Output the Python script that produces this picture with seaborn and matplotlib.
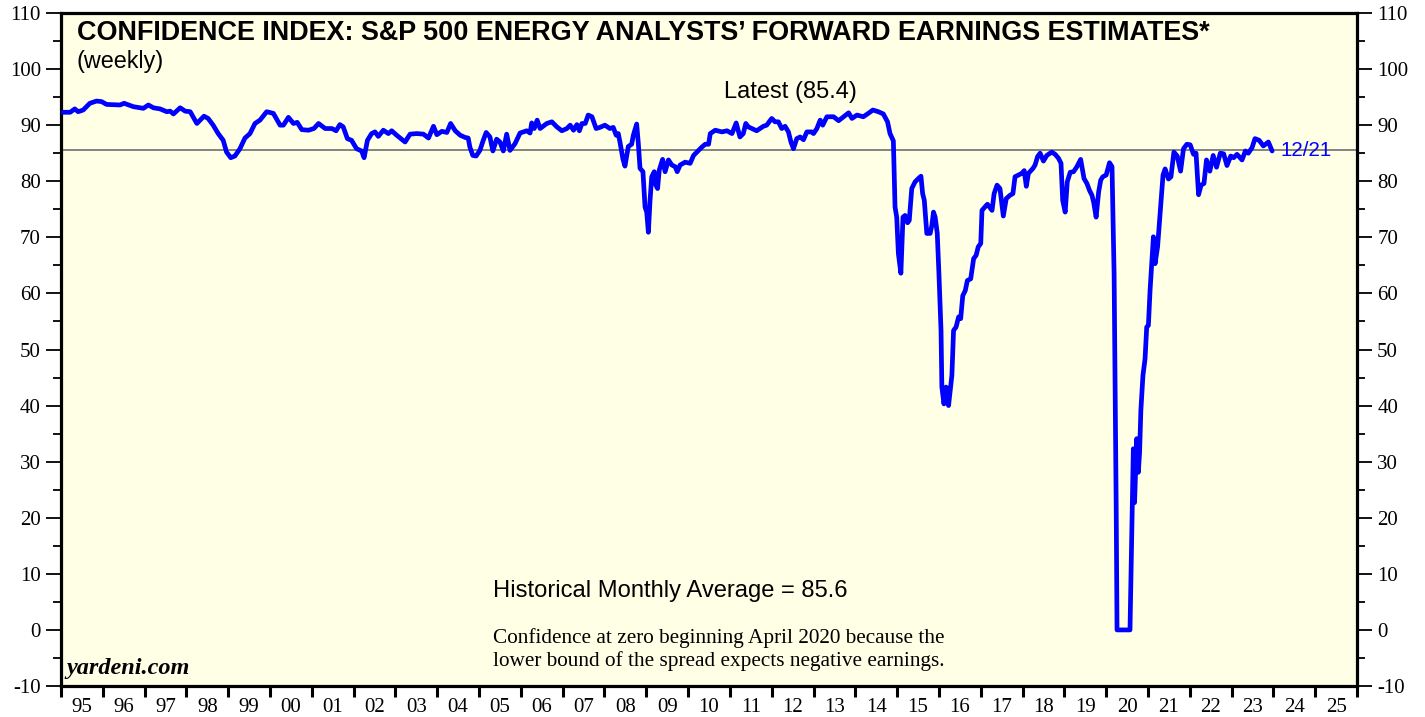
import matplotlib
matplotlib.use("Agg")
import matplotlib.pyplot as plt
import seaborn as sns
import numpy as np
import pandas as pd
from matplotlib.ticker import MultipleLocator, FixedLocator, FixedFormatter

# ---------------- data (decimal year, confidence index) ----------------
dates_a = [1995.05, 1995.22, 1995.33, 1995.41, 1995.53, 1995.69, 1995.85, 1995.97, 1996.09, 1996.41,
           1996.51, 1996.73, 1996.97, 1997.09, 1997.21, 1997.37, 1997.53, 1997.61, 1997.69, 1997.85,
           1997.97, 1998.09, 1998.25, 1998.42, 1998.52, 1998.64, 1998.76, 1998.88, 1998.96, 1999.06,
           1999.16, 1999.28, 1999.40, 1999.52, 1999.64, 1999.76, 1999.92, 2000.08, 2000.24, 2000.32,
           2000.44, 2000.56, 2000.65, 2000.76, 2000.92]
values_a = [92.3, 92.3, 92.9, 92.4, 92.7, 93.9, 94.3, 94.2, 93.7, 93.6,
            93.9, 93.3, 93.0, 93.6, 93.1, 92.9, 92.4, 92.5, 92.0, 93.1,
            92.5, 92.4, 90.3, 91.6, 91.2, 90.0, 88.5, 87.3, 85.2, 84.2,
            84.5, 85.8, 87.7, 88.5, 90.3, 90.9, 92.4, 92.1, 90.0, 90.0,
            91.4, 90.3, 90.5, 89.2, 89.1]

dates_b = [2001.05, 2001.16, 2001.32, 2001.48, 2001.58, 2001.67, 2001.75, 2001.85, 2001.95, 2002.07,
           2002.19, 2002.25, 2002.33, 2002.43, 2002.51, 2002.59, 2002.71, 2002.83, 2002.91, 2003.03,
           2003.23, 2003.35, 2003.51, 2003.67, 2003.79, 2003.91, 2003.99, 2004.11, 2004.23, 2004.32,
           2004.43, 2004.55, 2004.67, 2004.74, 2004.78, 2004.85, 2004.93, 2005.02, 2005.10, 2005.17,
           2005.26, 2005.33, 2005.42, 2005.50, 2005.58, 2005.66, 2005.74, 2005.86, 2005.98, 2006.14,
           2006.22, 2006.26, 2006.32, 2006.39, 2006.46, 2006.62, 2006.74, 2006.86, 2006.98, 2007.10,
           2007.18, 2007.26, 2007.34, 2007.40, 2007.46, 2007.54, 2007.61, 2007.70, 2007.80]
values_b = [89.4, 90.3, 89.4, 89.4, 89.0, 90.1, 89.7, 87.6, 87.3, 85.8,
            85.4, 84.2, 87.3, 88.5, 88.8, 88.0, 89.1, 88.5, 89.0, 88.2,
            87.0, 88.4, 88.5, 88.4, 87.7, 89.8, 88.3, 88.9, 88.7, 90.3,
            89.0, 88.2, 87.8, 87.7, 86.1, 84.6, 84.5, 85.5, 87.3, 88.7,
            87.9, 85.4, 87.5, 87.0, 85.4, 88.4, 85.5, 86.7, 88.6, 89.0,
            88.6, 90.4, 89.4, 90.9, 89.4, 90.3, 90.6, 89.7, 89.0, 89.4,
            90.0, 89.1, 90.1, 89.0, 90.3, 90.3, 91.8, 91.5, 89.4]

dates_c = [2007.89, 2008.01, 2008.13, 2008.21, 2008.28, 2008.33, 2008.37, 2008.44, 2008.49, 2008.57,
           2008.65, 2008.69, 2008.77, 2008.81, 2008.85, 2008.92, 2008.97, 2009.01, 2009.05, 2009.09,
           2009.13, 2009.19, 2009.23, 2009.27, 2009.31, 2009.39, 2009.45, 2009.53, 2009.61, 2009.69,
           2009.74, 2009.81, 2009.93, 2010.05, 2010.13, 2010.25, 2010.33, 2010.41, 2010.49, 2010.53,
           2010.65, 2010.81, 2010.93, 2011.05, 2011.15, 2011.24, 2011.32, 2011.38, 2011.44, 2011.64,
           2011.80, 2011.88, 2012.00, 2012.08, 2012.16, 2012.24, 2012.32, 2012.40, 2012.46, 2012.52,
           2012.60, 2012.68, 2012.76, 2012.84, 2012.96, 2013.00, 2013.08, 2013.16, 2013.22, 2013.32,
           2013.48, 2013.60, 2013.72, 2013.84, 2013.92, 2014.04, 2014.19, 2014.31, 2014.42, 2014.55,
           2014.67, 2014.77, 2014.83, 2014.91]
values_c = [89.6, 90.0, 89.4, 89.6, 88.2, 88.5, 87.0, 84.0, 82.7, 86.2,
            86.6, 88.2, 90.2, 86.7, 82.3, 81.7, 75.4, 74.5, 70.9, 76.6,
            80.8, 81.7, 79.3, 78.7, 82.0, 83.9, 81.7, 83.8, 82.9, 82.6,
            81.7, 82.9, 83.4, 83.2, 84.6, 85.5, 86.1, 86.6, 86.6, 88.5,
            89.1, 88.8, 89.0, 88.5, 90.4, 87.9, 88.5, 90.3, 89.7, 89.0,
            89.8, 90.0, 91.2, 90.6, 90.6, 89.4, 89.8, 88.8, 87.0, 85.8,
            87.6, 87.9, 87.4, 88.8, 88.8, 88.5, 89.4, 90.9, 90.0, 91.5,
            91.5, 90.8, 91.5, 92.2, 91.2, 91.8, 91.5, 92.1, 92.7, 92.4,
            92.0, 90.6, 88.5, 87.2]

dates_d = [2014.95, 2014.99, 2015.03, 2015.09, 2015.14, 2015.19, 2015.25, 2015.29, 2015.35, 2015.43,
           2015.51, 2015.57, 2015.61, 2015.65, 2015.71, 2015.79, 2015.83, 2015.87, 2015.91, 2015.96,
           2016.00, 2016.05, 2016.07, 2016.12, 2016.17, 2016.23, 2016.27, 2016.31, 2016.35, 2016.41,
           2016.47, 2016.52, 2016.57, 2016.63, 2016.68, 2016.76, 2016.83, 2016.89, 2016.94, 2017.00,
           2017.03, 2017.11, 2017.16, 2017.27, 2017.32, 2017.39, 2017.46, 2017.54, 2017.61, 2017.70,
           2017.77, 2017.82, 2017.90, 2017.98, 2018.04, 2018.09, 2018.14, 2018.25, 2018.30, 2018.36,
           2018.42, 2018.50, 2018.58, 2018.70, 2018.78, 2018.86, 2018.92, 2018.96, 2019.02, 2019.07,
           2019.14, 2019.22, 2019.30, 2019.39, 2019.47, 2019.54, 2019.60, 2019.66, 2019.70, 2019.76,
           2019.82, 2019.87, 2019.92, 2020.00, 2020.08, 2020.14]
values_d = [75.4, 73.6, 67.1, 63.6, 73.6, 73.9, 72.6, 73.0, 78.7, 79.9,
            80.5, 80.9, 77.8, 76.6, 70.7, 70.7, 72.1, 74.5, 73.6, 70.7,
            63.5, 53.4, 43.3, 40.3, 43.3, 40.0, 42.7, 45.4, 53.4, 54.0,
            55.8, 55.5, 59.6, 60.5, 62.3, 62.6, 66.2, 66.8, 68.3, 68.9,
            74.8, 75.5, 75.9, 74.8, 77.8, 79.3, 78.7, 73.8, 76.9, 77.5,
            77.8, 80.8, 81.1, 81.4, 81.9, 79.1, 81.4, 82.3, 82.9, 84.4,
            85.0, 83.6, 84.6, 85.2, 84.8, 84.1, 83.2, 76.6, 74.5, 79.9,
            81.6, 81.7, 82.6, 83.9, 80.5, 79.6, 78.4, 77.5, 76.3, 73.6,
            78.1, 80.2, 80.8, 81.1, 83.3, 82.6]

dates_e = [2020.19, 2020.24, 2020.26, 2020.57, 2020.61, 2020.65, 2020.68, 2020.73, 2020.77, 2020.80,
           2020.83, 2020.88, 2020.93, 2020.97, 2021.01, 2021.05, 2021.09, 2021.13, 2021.17, 2021.23,
           2021.29, 2021.36, 2021.41, 2021.49, 2021.55, 2021.62, 2021.70, 2021.78, 2021.85, 2021.93,
           2022.01, 2022.09, 2022.15, 2022.21, 2022.27, 2022.34, 2022.40, 2022.48, 2022.56, 2022.64,
           2022.73, 2022.81, 2022.89, 2022.98, 2023.05, 2023.13, 2023.25, 2023.33, 2023.40, 2023.49,
           2023.56, 2023.66, 2023.76, 2023.88, 2023.97]
values_e = [63.5, 21.8, 0.0, 0.0, 15.9, 32.3, 22.7, 34.1, 28.1, 31.7,
            39.1, 45.4, 48.3, 54.0, 54.3, 60.5, 65.3, 70.1, 65.3, 68.3,
            74.2, 81.1, 82.2, 80.4, 80.8, 85.2, 84.5, 81.8, 85.8, 86.6,
            86.5, 84.8, 85.0, 77.6, 79.3, 79.6, 83.8, 81.8, 84.6, 82.5,
            85.0, 84.9, 82.8, 84.5, 84.2, 84.8, 83.8, 85.4, 85.0, 86.0,
            87.6, 87.3, 86.3, 87.0, 85.4]

historical_avg = 85.6
latest_value = 85.4
latest_label = "12/21"
year_ticks = list(range(1995, 2027))
year_labels = [f"{y % 100:02d}" for y in range(1995, 2026)]

df = pd.DataFrame({
    "date": dates_a + dates_b + dates_c + dates_d + dates_e,
    "value": values_a + values_b + values_c + values_d + values_e,
})

# ---------------- style ----------------
sns.set_style("ticks")
plt.rcParams["font.family"] = ["Liberation Sans", "DejaVu Sans"]
plt.rcParams["text.color"] = "black"
plt.rcParams["axes.labelcolor"] = "black"
plt.rcParams["xtick.color"] = "black"
plt.rcParams["ytick.color"] = "black"
plt.rcParams["axes.unicode_minus"] = False

W, H, DPI = 1425, 717, 100
fig = plt.figure(figsize=(W / DPI, H / DPI), dpi=DPI, facecolor="white")
ax = fig.add_axes([61 / W, 1 - 686 / H, (1357 - 61) / W, (686 - 13) / H])
ax.set_facecolor("#FFFFE6")

sns.lineplot(data=df, x="date", y="value", ax=ax, color="#0000FF", linewidth=3.4,
             estimator=None, sort=False, zorder=3)
ax.axhline(historical_avg, color="#6E6E6E", linewidth=1.2, zorder=2)

ax.set_xlim(1995, 2026)
ax.set_ylim(-10, 110)
ax.set_xlabel("")
ax.set_ylabel("")

# x axis: year boundaries as ticks, labels at mid-year
ax.xaxis.set_major_locator(FixedLocator(year_ticks))
ax.xaxis.set_major_formatter(FixedFormatter([""] * len(year_ticks)))
ax.xaxis.set_minor_locator(FixedLocator([y + 0.5 for y in range(1995, 2026)]))
ax.xaxis.set_minor_formatter(FixedFormatter(year_labels))
ax.tick_params(axis="x", which="major", direction="out", length=8, width=2.2, bottom=True, top=False)
ax.tick_params(axis="x", which="minor", length=0, pad=9, labelsize=15)

# y axis both sides
ax.yaxis.set_major_locator(MultipleLocator(10))
ax.yaxis.set_minor_locator(MultipleLocator(5))
ax.tick_params(axis="y", which="major", direction="out", length=11, width=1.3,
               left=True, right=True, labelleft=True, labelright=True, labelsize=15, pad=3.5)
ax.tick_params(axis="y", which="minor", direction="out", length=6, width=1.3, left=True, right=True)

for lab in ax.get_xticklabels(minor=True) + ax.get_yticklabels():
    lab.set_fontfamily(["Liberation Serif", "DejaVu Serif"])

for sp in ax.spines.values():
    sp.set_linewidth(2.3)
    sp.set_color("black")

# ---------------- texts ----------------
ax.text(1995.38, 106.4, "CONFIDENCE INDEX: S&P 500 ENERGY ANALYSTS\u2019 FORWARD EARNINGS ESTIMATES*",
        fontsize=19.45, fontweight="bold", va="center", ha="left")
ax.text(1995.38, 101.3, "(weekly)", fontsize=16.8, va="center", ha="left")
ax.text(2012.44, 95.9, f"Latest ({latest_value})", fontsize=17, va="center", ha="center")
ax.text(2024.16, 85.5, latest_label, fontsize=14.8, color="#0000FF", va="center", ha="left")
ax.text(2005.33, 7.0, f"Historical Monthly Average = {historical_avg}", fontsize=17.15,
        va="center", ha="left")
ax.text(2005.33, -1.4, "Confidence at zero beginning April 2020 because the", fontsize=15.3,
        va="center", ha="left", family=["Liberation Serif", "DejaVu Serif"])
ax.text(2005.33, -5.5, "lower bound of the spread expects negative earnings.", fontsize=15.3,
        va="center", ha="left", family=["Liberation Serif", "DejaVu Serif"])
ax.text(1995.14, -6.8, "yardeni.com", fontsize=17.5, fontweight="bold", fontstyle="italic",
        va="center", ha="left", family=["Liberation Serif", "DejaVu Serif"])

fig.savefig("out.png", dpi=DPI, facecolor="white")
